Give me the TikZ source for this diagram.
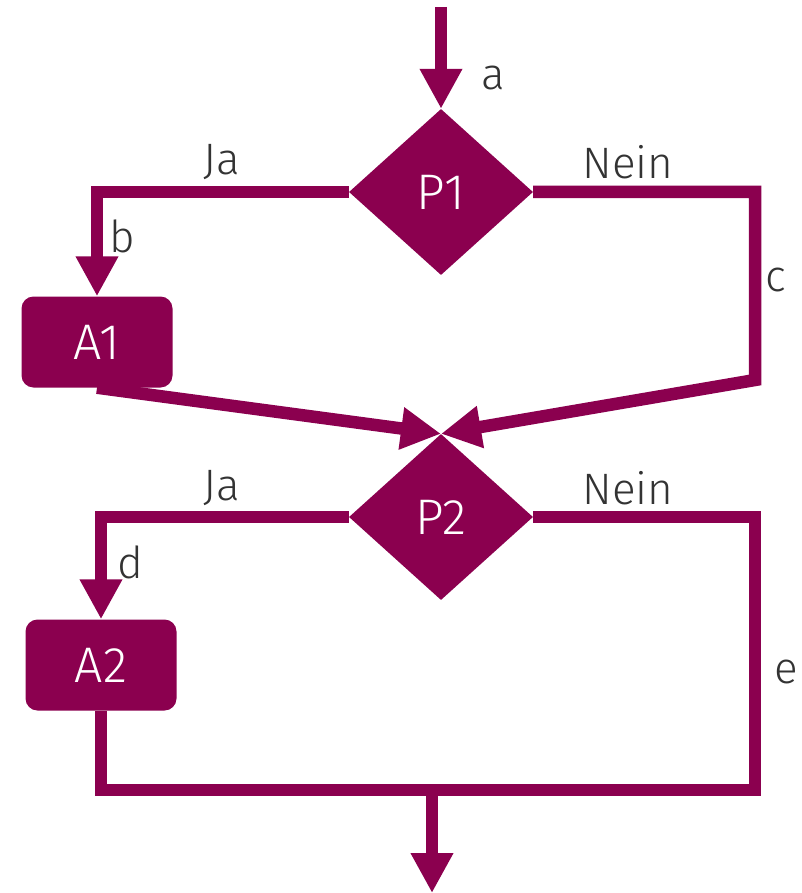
\documentclass[tikz,border=0pt]{standalone}
\usepackage{fontspec}
\setmainfont{Fira Sans Light}
\usetikzlibrary{shapes.geometric,arrows.meta}
\definecolor{mag}{HTML}{8B004F}
\definecolor{lbl}{HTML}{333333}
\begin{document}
\begin{tikzpicture}[x=1pt,y=-1pt,
 flow/.style={draw=mag,line width=12.5pt},
 arr/.style={flow,-{Triangle[width=40pt,length=40pt]}},
 dec/.style={diamond,fill=mag,minimum width=184pt,minimum height=166pt,inner sep=0pt,text=white,font=\fontsize{50}{50}\selectfont},
 act/.style={rectangle,rounded corners=12pt,fill=mag,minimum width=151pt,minimum height=91pt,inner sep=0pt,text=white,font=\fontsize{50}{50}\selectfont},
 lab/.style={text=lbl,inner sep=0pt,font=\fontsize{44}{44}\selectfont}]
\useasboundingbox (0,0) rectangle (802,893);
\coordinate (top) at (441,7);
\node[dec] (P1) at (441,192) {P1};
\node[act] (A1) at (97,342) {A1};
\node[dec] (P2) at (441,517) {P2};
\node[act] (A2) at (101,665) {A2};
\coordinate (cR) at (755,380);
\coordinate (bR) at (755,790);
\coordinate (bL) at (101,790);
\coordinate (bM) at (432,790);
\coordinate (bot) at (432,893);
\draw[arr] (top) -- (P1.north);
\draw[arr] (P1.west) -| (A1.north);
\draw[arr] (P1.east) -| (cR) -- (P2.north);
\draw[arr] (A1.south) -- (P2.north);
\draw[arr] (P2.west) -| (A2.north);
\draw[flow] (P2.east) -| (bR) -- (bL) -- (A2.south);
\draw[arr] (bM) -- (bot);
\node[lab] at (493,78) {a};
\node[lab] at (222,162) {Ja};
\node[lab] at (628,162) {Nein};
\node[lab] at (122,236) {b};
\node[lab] at (776,280) {c};
\node[lab] at (222,488) {Ja};
\node[lab] at (628,488) {Nein};
\node[lab] at (130,562) {d};
\node[lab] at (786,672) {e};
\end{tikzpicture}
\end{document}
